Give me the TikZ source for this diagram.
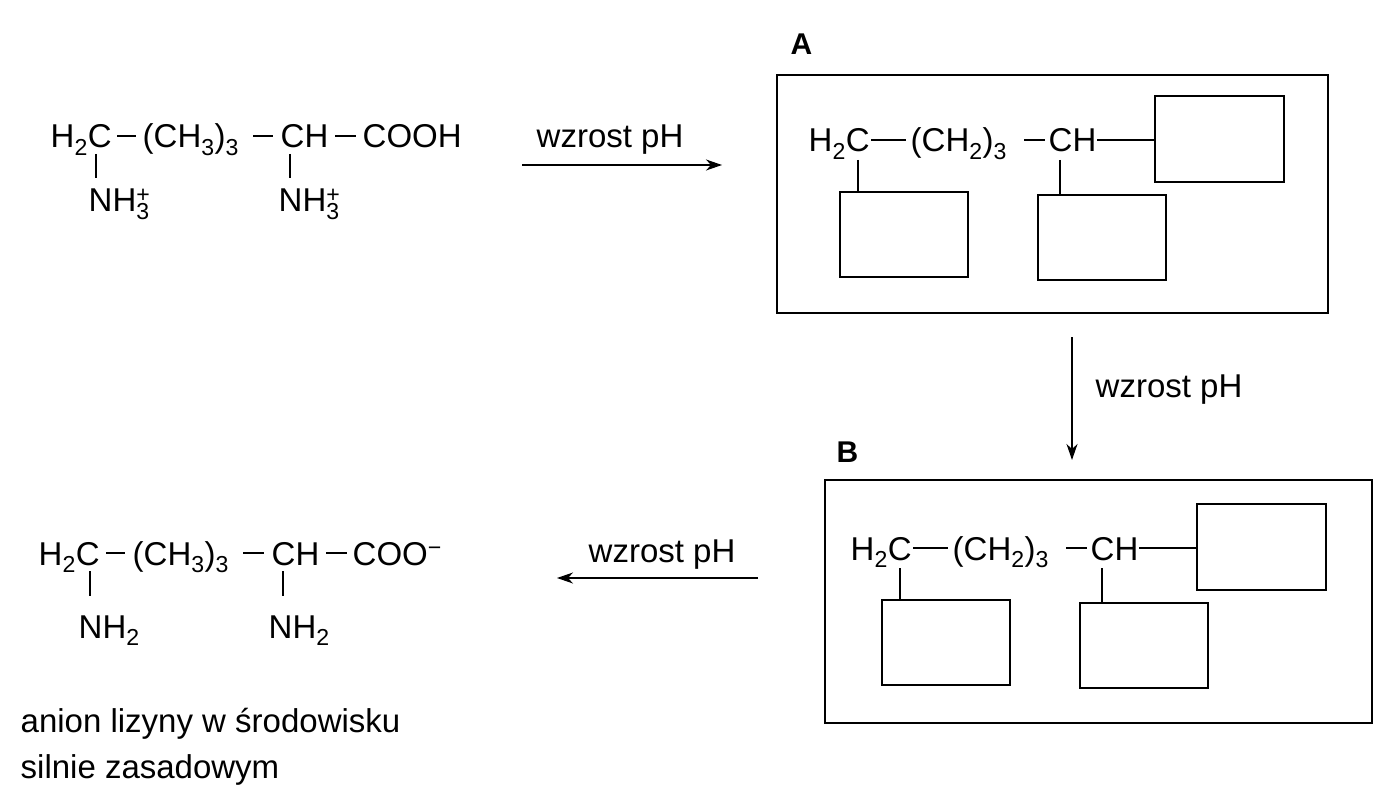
\documentclass[tikz,border=0pt]{standalone}
\usepackage{fontspec}
\setmainfont{Liberation Sans}
\usetikzlibrary{arrows.meta}
\newcommand{\sbs}[1]{\textsubscript{#1}}
\newcommand{\sbsup}[2]{\rlap{\textsuperscript{#2}}\textsubscript{#1}}
\begin{document}
\begin{tikzpicture}[x=1pt,y=-1pt,line width=1.4pt,
 t/.style={anchor=base west,inner sep=0pt,font=\fontsize{33}{38}\selectfont},
 bx/.style={draw,line width=1.4pt},
 big/.style={draw,line width=2.2pt},
 arr/.style={-{Stealth[length=16pt,width=11pt,inset=5pt]},line width=1.2pt}]
\useasboundingbox (0,0) rectangle (1400,794);
% top-left formula
\node[t] (a1) at (50,148) {H\sbs{2}C};
\node[t] (a2) at (142,148) {(CH\sbs{3})\sbs{3}};
\node[t] (a3) at (280,148) {CH};
\node[t] (a4) at (362,148) {COOH};
\node[t] (a5) at (88,212) {NH\sbsup{3}{+}};
\node[t] (a6) at (278,212) {NH\sbsup{3}{+}};
\draw (117,136) -- (136,136); \draw (253,136) -- (273,136); \draw (335,136) -- (356,136);
\draw (96,154) -- (96,178); \draw (290,154) -- (290,178);
% arrow 1
\coordinate (p1) at (522,165); \coordinate (p2) at (722,165);
\draw[arr] (p1) -- (p2);
\node[t] (l1) at (536,148) {wzrost pH};
% box A
\node[t,font=\fontsize{30}{36}\selectfont\bfseries] (A) at (790,55) {A};
\draw[big] (777,75) rectangle (1328,313);
\foreach \dx/\dy/\nm in {0/0/A,42/408/B}{
\begin{scope}[shift={(\dx,\dy)}]
\node[t] (h\nm) at (808,152) {H\sbs{2}C};
\node[t] (c\nm) at (910,152) {(CH\sbs{2})\sbs{3}};
\node[t] (ch\nm) at (1048,152) {CH};
\draw (871,140) -- (906,140); \draw (1024,140) -- (1045,140); \draw (1097,140) -- (1155,140);
\draw[bx] (1155,96) rectangle (1284,182);
\draw (858,160) -- (858,192);
\draw[bx] (840,192) rectangle (968,277);
\draw (1060,160) -- (1060,195);
\draw[bx] (1038,195) rectangle (1166,280);
\end{scope}}
% arrow down
\coordinate (p3) at (1072,337); \coordinate (p4) at (1072,460);
\draw[arr] (p3) -- (p4);
\node[t] (l2) at (1095,397) {wzrost pH};
% box B
\node[t,font=\fontsize{30}{36}\selectfont\bfseries] (B) at (836,462) {B};
\draw[big] (825,480) rectangle (1372,723);
% arrow left
\coordinate (p5) at (758,578); \coordinate (p6) at (557,578);
\draw[arr] (p5) -- (p6);
\node[t] (l3) at (588,562) {wzrost pH};
% bottom-left formula
\node[t] (b1) at (38,565) {H\sbs{2}C};
\node[t] (b2) at (132,565) {(CH\sbs{3})\sbs{3}};
\node[t] (b3) at (271,565) {CH};
\node[t] (b4) at (352,565) {COO\textsuperscript{\textminus}};
\node[t] (b5) at (78,638) {NH\sbs{2}};
\node[t] (b6) at (268,638) {NH\sbs{2}};
\draw (106,553) -- (125,553); \draw (243,553) -- (264,553); \draw (326,553) -- (347,553);
\draw (90,571) -- (90,596); \draw (283,571) -- (283,596);
\node[t] (c1) at (20,732) {anion lizyny w środowisku};
\node[t] (c2) at (20,778) {silnie zasadowym};
\end{tikzpicture}
\end{document}
